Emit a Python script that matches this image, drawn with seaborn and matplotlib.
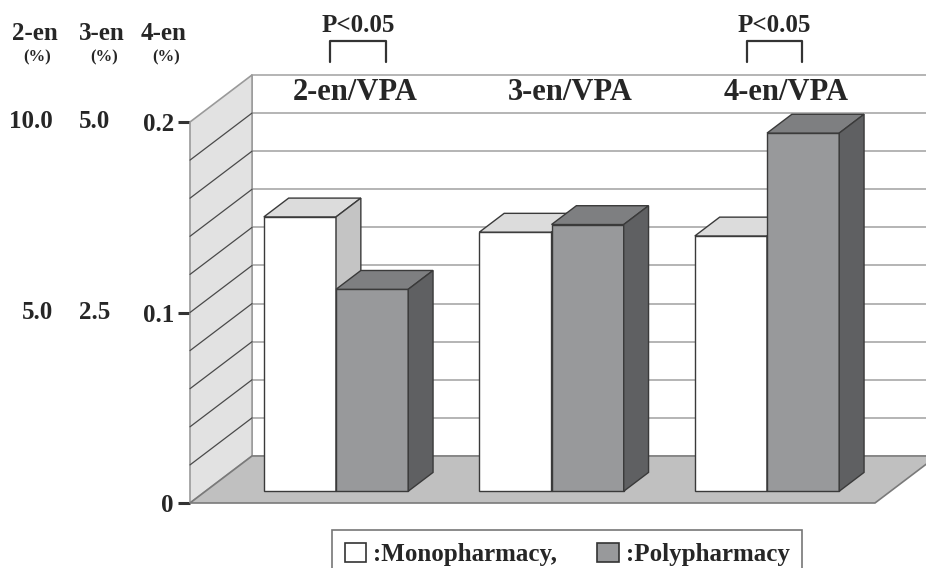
import matplotlib
matplotlib.use("Agg")
import matplotlib.pyplot as plt
from matplotlib.patches import Polygon, Patch
import numpy as np
import pandas as pd
import seaborn as sns

# ---- data -------------------------------------------------------------
groups = ["2-en/VPA", "3-en/VPA", "4-en/VPA"]
series = ["Monopharmacy", "Polypharmacy"]
axis_max = [10.0, 5.0, 0.2]          # top of each metabolite's own % scale
mono_pct = [7.2, 3.4, 0.134]          # monopharmacy, % of VPA
poly_pct = [5.3, 3.5, 0.188]          # polypharmacy, % of VPA
scale_heads = ["2-en", "3-en", "4-en"]
scale_top = ["10.0", "5.0", "0.2"]
scale_mid = ["5.0", "2.5", "0.1"]
significant = [(0, 0.045, 0.305), (2, -0.02, 0.235)]   # group, bracket left/right offset

# ---- style ------------------------------------------------------------
sns.set_theme(style="white")
plt.rcParams["font.family"] = ["Liberation Serif", "DejaVu Serif"]
plt.rcParams["font.weight"] = "bold"
INK = "#262626"
EDGE = "#3a3a3a"
WHITE_F, WHITE_T, WHITE_S = "#ffffff", "#dcdcdc", "#c4c4c4"
GRAY_F, GRAY_T, GRAY_S = "#98999b", "#7e7f81", "#5f6062"
WALL = "#e2e2e2"
FLOOR = "#c0c0c0"
GRID = "#a8a8a8"

# depth of the 3-D box in data units, and bar placement along it
DX, DY = 0.288, 0.0247
F0, BD = 0.25, 0.40

fig = plt.figure(figsize=(9.26, 5.68), dpi=100)
ax = fig.add_axes([190 / 926, (568 - 503) / 568, 685 / 926, 381 / 568])

# bar heights on the common 0-0.2 plotting scale
df = pd.DataFrame({
    "group": groups * 2,
    "series": [series[0]] * 3 + [series[1]] * 3,
    "height": [v / m * 0.2 for v, m in zip(mono_pct, axis_max)]
              + [v / m * 0.2 for v, m in zip(poly_pct, axis_max)],
})
sns.barplot(data=df, x="group", y="height", hue="series", order=groups,
            hue_order=series, palette=[WHITE_F, GRAY_F], saturation=1,
            width=0.67, edgecolor=EDGE, linewidth=1.0, errorbar=None,
            legend=False, ax=ax)

xl, xr = -0.6056, 2.573
ax.set_xlim(xl, xr)
ax.set_ylim(0, 0.2)

# back wall gridlines
for v in np.arange(0.02, 0.2001, 0.02):
    ax.plot([xl + DX, xr + DX + 0.5], [v + DY, v + DY], color=GRID, lw=1.2,
            zorder=1, clip_on=False)
ax.plot([xl + DX, xl + DX], [DY, 0.2 + DY], color=GRID, lw=1.2, zorder=1,
        clip_on=False)

# side wall with its slanted gridlines
ax.add_patch(Polygon([(xl, 0), (xl + DX, DY), (xl + DX, 0.2 + DY), (xl, 0.2)],
                     closed=True, facecolor=WALL, edgecolor="#9a9a9a", lw=1.2,
                     zorder=2, clip_on=False))
for v in np.arange(0.02, 0.1801, 0.02):
    ax.plot([xl, xl + DX], [v, v + DY], color="#4a4a4a", lw=0.9, zorder=2.5,
            clip_on=False)

# floor
ax.add_patch(Polygon([(xl, 0), (xr, 0), (xr + DX, DY), (xl + DX, DY)],
                     closed=True, facecolor=FLOOR, edgecolor="#7a7a7a", lw=1.2,
                     zorder=2, clip_on=False))

# extrude the bars into blocks
for p in list(ax.patches):
    if not isinstance(p, matplotlib.patches.Rectangle) or p.get_height() <= 0:
        continue
    is_white = p.get_facecolor()[0] > 0.9
    top_c, side_c = (WHITE_T, WHITE_S) if is_white else (GRAY_T, GRAY_S)
    z = 5 if is_white else 6
    x0 = p.get_x() + F0 * DX
    w, h = p.get_width(), p.get_height()
    y0 = F0 * DY
    p.set_x(x0)
    p.set_y(y0)
    p.set_zorder(z)
    x1, y1 = x0 + w, y0 + h
    bx, by = BD * DX, BD * DY
    ax.add_patch(Polygon([(x0, y1), (x1, y1), (x1 + bx, y1 + by), (x0 + bx, y1 + by)],
                         closed=True, facecolor=top_c, edgecolor=EDGE, lw=1.0,
                         zorder=z, clip_on=False))
    ax.add_patch(Polygon([(x1, y0), (x1 + bx, y0 + by), (x1 + bx, y1 + by), (x1, y1)],
                         closed=True, facecolor=side_c, edgecolor=EDGE, lw=1.0,
                         zorder=z, clip_on=False))

# axes decoration
for s in ax.spines.values():
    s.set_visible(False)
ax.set_xticks([])
ax.set_xlabel("")
ax.set_ylabel("")
ax.set_yticks([0, 0.1, 0.2])
ax.set_yticklabels(["0", scale_mid[2], scale_top[2]])
ax.tick_params(axis="y", left=True, length=8.6, width=2.2, color="#333333",
               pad=3, labelsize=18, labelcolor=INK)

ytr = ax.get_yaxis_transform()
for xa, top, mid in [((53 - 190) / 685, scale_top[0], scale_mid[0]),
                     ((110 - 190) / 685, scale_top[1], scale_mid[1])]:
    ax.text(xa, 0.2, top, transform=ytr, ha="right", va="center", fontsize=18,
            color=INK, fontweight="bold")
    ax.text(xa, 0.1, mid, transform=ytr, ha="right", va="center", fontsize=18,
            color=INK, fontweight="bold")

for xc, head in zip([35, 102, 164], scale_heads):
    fig.text(xc / 926, 1 - 33 / 568, head, ha="center", va="center",
             fontsize=18, color=INK, fontweight="bold")
    fig.text((xc + 2) / 926, 1 - 57 / 568, "(%)", ha="center", va="center",
             fontsize=12, color=INK, fontweight="bold")

# category titles on the back wall
for i, g in enumerate(groups):
    ax.text(i + 0.16, 0.2155, g, ha="center", va="center", fontsize=22,
            color=INK, fontweight="bold", clip_on=False)

# significance brackets
for gi, lo, hi in significant:
    xa, xb = gi + lo, gi + hi
    ax.plot([xa, xa, xb, xb], [0.2315, 0.2425, 0.2425, 0.2315], color="#333333",
            lw=1.6, clip_on=False, zorder=8)
    ax.text((xa + xb) / 2, 0.2505, "P<0.05", ha="center", va="center",
            fontsize=18, color=INK, fontweight="bold", clip_on=False)

# legend
handles = [Patch(facecolor=WHITE_F, edgecolor="#333333", lw=1.2),
           Patch(facecolor=GRAY_F, edgecolor="#333333", lw=1.2)]
leg = fig.legend(handles, [":Monopharmacy,", ":Polypharmacy"], loc="upper left",
                 bbox_to_anchor=(332 / 926, 1 - 530 / 568), ncol=2,
                 frameon=True, fancybox=False, edgecolor="#555555",
                 fontsize=18, handlelength=0.85, handleheight=0.85,
                 handletextpad=0.3, columnspacing=1.6, borderpad=0.5,
                 borderaxespad=0)
leg.get_frame().set_linewidth(1.2)
for t in leg.get_texts():
    t.set_color(INK)
    t.set_fontweight("bold")

fig.savefig("out.png", dpi=100)
